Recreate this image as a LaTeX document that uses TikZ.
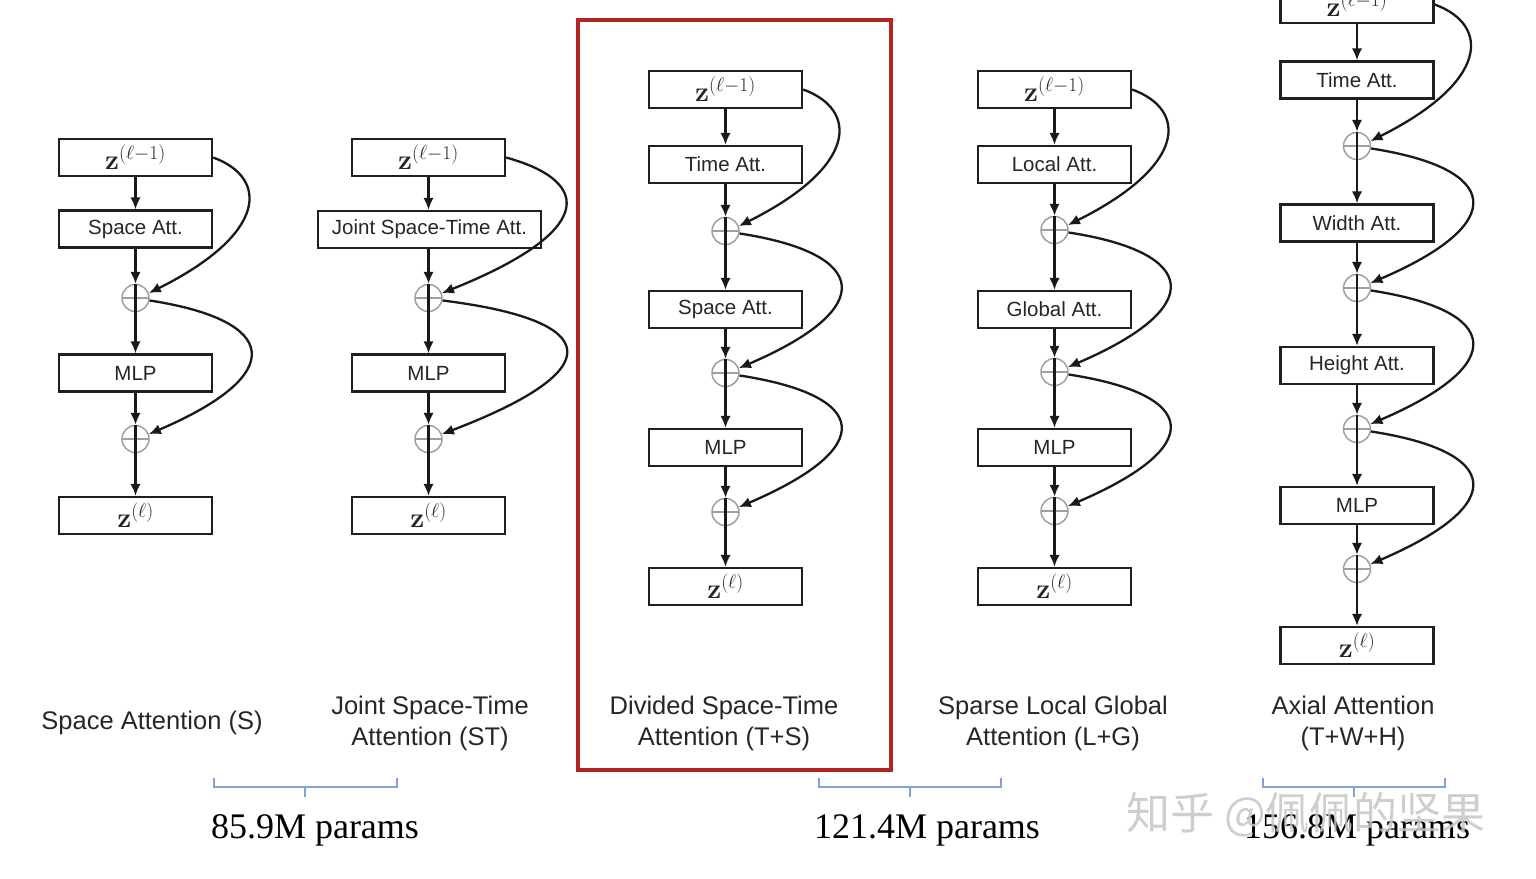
\RequirePackage{fix-cm}
\documentclass[tikz,border=0pt]{standalone}
\usepackage[no-math]{fontspec}
\setmainfont{Liberation Sans}
\newfontfamily\prm{Liberation Serif}
\newfontfamily\cjk{Noto Sans CJK SC}
\usetikzlibrary{arrows.meta}
\definecolor{redbox}{RGB}{178,37,32}
\definecolor{bracecol}{RGB}{128,164,208}
\tikzset{
  blk/.style={draw=black!88, line width=2.3pt, minimum width=153pt, minimum height=37pt, inner sep=0pt, font=\fontsize{20.5}{24}\selectfont, text=black!85},
  zblk/.style={blk, font=\fontsize{28}{30}\selectfont},
  plus/.style={circle, draw=gray!75, line width=1.5pt, minimum size=27pt, inner sep=0pt,
    path picture={\draw[gray!75,line width=1.5pt] (path picture bounding box.north) -- (path picture bounding box.south) (path picture bounding box.west) -- (path picture bounding box.east);}},
  arr/.style={-{Latex[length=12pt,width=10.5pt]}, line width=2.3pt, draw=black!90},
  capt/.style={font=\fontsize{25.5}{31}\selectfont, align=center, text=black!85},
  brc/.style={draw=bracecol, line width=1.3pt},
  prmtext/.style={font=\prm\fontsize{36}{40}\selectfont, text=black},
}
% skip from a box to a circle, and from a circle to a circle
\newcommand{\skipbox}[2]{\draw[arr] (#1.east) .. controls +(55,20) and +(120,-60) .. (#2.20);}
\newcommand{\skipcirc}[2]{\draw[arr] (#1.-10) .. controls +(130,20) and +(140,-60) .. (#2.20);}
\begin{document}
\begin{tikzpicture}[x=1pt,y=-1pt]
\useasboundingbox (0,0) rectangle (1536,878);
\clip (0,0) rectangle (1536,878);

% ---------- Column 1: Space Attention ----------
\node[zblk] (a0) at (135.5,157.5) {\(\mathbf{z}^{(\ell-1)}\)};
\node[blk]  (a1) at (135.5,229) {Space Att.};
\node[plus] (ap1) at (135.5,298) {};
\node[blk]  (a2) at (135.5,373) {MLP};
\node[plus] (ap2) at (135.5,439) {};
\node[zblk] (a3) at (135.5,515.5) {\(\mathbf{z}^{(\ell)}\)};
\draw[arr] (a0) -- (a1);
\draw[arr] (a1) -- (ap1.north);
\draw[arr] (ap1.north) -- (a2.north);
\draw[arr] (a2) -- (ap2.north);
\draw[arr] (ap2.north) -- (a3.north);
\skipbox{a0}{ap1}
\skipcirc{ap1}{ap2}

% ---------- Column 2: Joint Space-Time ----------
\node[zblk] (b0) at (428.5,157.5) {\(\mathbf{z}^{(\ell-1)}\)};
\node[blk, minimum width=223pt] (b1) at (429.5,229.5) {Joint Space-Time Att.};
\node[plus] (bp1) at (428.5,298) {};
\node[blk]  (b2) at (428.5,373) {MLP};
\node[plus] (bp2) at (428.5,439) {};
\node[zblk] (b3) at (428.5,515.5) {\(\mathbf{z}^{(\ell)}\)};
\draw[arr] (b0) -- (b0 |- b1.north);
\draw[arr] (bp1 |- b1.south) -- (bp1.north);
\draw[arr] (bp1.north) -- (b2.north);
\draw[arr] (b2) -- (bp2.north);
\draw[arr] (bp2.north) -- (b3.north);
\draw[arr] (b0.east) .. controls +(90,25) and +(150,-60) .. (bp1.20);
\draw[arr] (bp1.-10) .. controls +(160,20) and +(170,-65) .. (bp2.20);

% ---------- Column 3: Divided Space-Time ----------
\node[zblk] (c0) at (725.5,89.5) {\(\mathbf{z}^{(\ell-1)}\)};
\node[blk]  (c1) at (725.5,164.5) {Time Att.};
\node[plus] (cp1) at (725.5,231) {};
\node[blk]  (c2) at (725.5,309.5) {Space Att.};
\node[plus] (cp2) at (725.5,373) {};
\node[blk]  (c3) at (725.5,447.5) {MLP};
\node[plus] (cp3) at (725.5,512) {};
\node[zblk] (c4) at (725.5,586.5) {\(\mathbf{z}^{(\ell)}\)};
\draw[arr] (c0) -- (c1);
\draw[arr] (c1) -- (cp1.north);
\draw[arr] (cp1.north) -- (c2.north);
\draw[arr] (c2) -- (cp2.north);
\draw[arr] (cp2.north) -- (c3.north);
\draw[arr] (c3) -- (cp3.north);
\draw[arr] (cp3.north) -- (c4.north);
\skipbox{c0}{cp1}
\skipcirc{cp1}{cp2}
\skipcirc{cp2}{cp3}

% ---------- Column 4: Sparse Local Global ----------
\node[zblk] (d0) at (1054.5,89.5) {\(\mathbf{z}^{(\ell-1)}\)};
\node[blk]  (d1) at (1054.5,164.5) {Local Att.};
\node[plus] (dp1) at (1054.5,230) {};
\node[blk]  (d2) at (1054.5,309.5) {Global Att.};
\node[plus] (dp2) at (1054.5,372) {};
\node[blk]  (d3) at (1054.5,447.5) {MLP};
\node[plus] (dp3) at (1054.5,511) {};
\node[zblk] (d4) at (1054.5,586.5) {\(\mathbf{z}^{(\ell)}\)};
\draw[arr] (d0) -- (d1);
\draw[arr] (d1) -- (dp1.north);
\draw[arr] (dp1.north) -- (d2.north);
\draw[arr] (d2) -- (dp2.north);
\draw[arr] (dp2.north) -- (d3.north);
\draw[arr] (d3) -- (dp3.north);
\draw[arr] (dp3.north) -- (d4.north);
\skipbox{d0}{dp1}
\skipcirc{dp1}{dp2}
\skipcirc{dp2}{dp3}

% ---------- Column 5: Axial ----------
\node[zblk] (e0) at (1357,4.5) {\(\mathbf{z}^{(\ell-1)}\)};
\node[blk]  (e1) at (1357,80) {Time Att.};
\node[plus] (ep1) at (1357,146) {};
\node[blk]  (e2) at (1357,223) {Width Att.};
\node[plus] (ep2) at (1357,288) {};
\node[blk]  (e3) at (1357,365.5) {Height Att.};
\node[plus] (ep3) at (1357,429) {};
\node[blk]  (e4) at (1357,505.5) {MLP};
\node[plus] (ep4) at (1357,569) {};
\node[zblk] (e5) at (1357,645.5) {\(\mathbf{z}^{(\ell)}\)};
\draw[arr] (e0) -- (e1);
\draw[arr] (e1) -- (ep1.north);
\draw[arr] (ep1.north) -- (e2.north);
\draw[arr] (e2) -- (ep2.north);
\draw[arr] (ep2.north) -- (e3.north);
\draw[arr] (e3) -- (ep3.north);
\draw[arr] (ep3.north) -- (e4.north);
\draw[arr] (e4) -- (ep4.north);
\draw[arr] (ep4.north) -- (e5.north);
\skipbox{e0}{ep1}
\skipcirc{ep1}{ep2}
\skipcirc{ep2}{ep3}
\skipcirc{ep3}{ep4}

% ---------- captions ----------
\node[capt] (ta) at (152,723) {Space Attention (S)};
\node[capt] (tb) at (430,723) {Joint Space-Time\\Attention (ST)};
\node[capt] (tc) at (724,723) {Divided Space-Time\\Attention (T+S)};
\node[capt] (td) at (1053,723) {Sparse Local Global\\Attention (L+G)};
\node[capt] (te) at (1353,723) {Axial Attention\\(T+W+H)};

% ---------- highlight ----------
\draw[draw=redbox, line width=4.5pt] (578,20) rectangle (891,770);

% ---------- braces ----------
\draw[brc] (214,778) -- (214,787) -- (397,787) -- (397,778) (305,787) -- (305,797);
\draw[brc] (819,778) -- (819,787) -- (1001,787) -- (1001,778) (910,787) -- (910,797);
\draw[brc] (1263,778) -- (1263,787) -- (1445,787) -- (1445,778) (1354,787) -- (1354,797);

\node[prmtext] (pa) at (315,830) {85.9M params};
\node[prmtext] (pb) at (927,830) {121.4M params};
\node[prmtext] (pc) at (1357,830) {156.8M params};

% ---------- watermark ----------
\node[font=\cjk\fontsize{44}{48}\selectfont, text=gray!45, opacity=0.85] (wm) at (1306,815) {知乎 @佩佩的坚果};
\end{tikzpicture}
\end{document}
